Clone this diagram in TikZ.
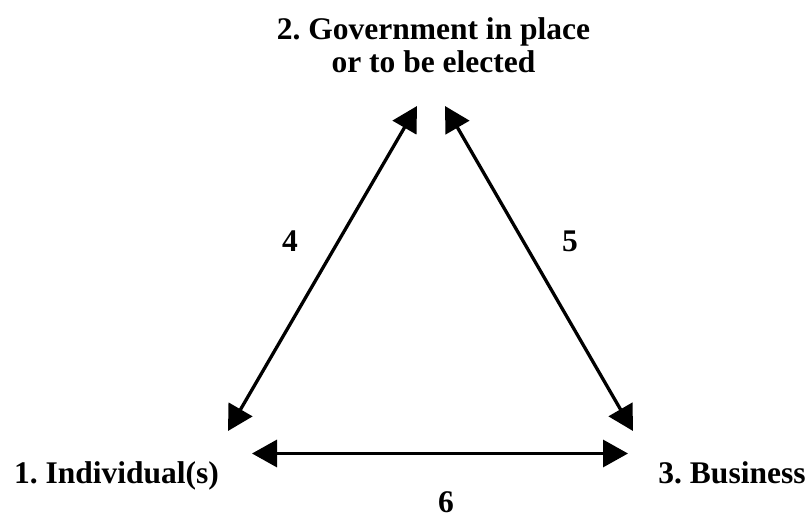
\documentclass[tikz,border=0pt]{standalone}
\usepackage{fontspec}
\setmainfont{Liberation Serif}
\usetikzlibrary{arrows.meta}
\frenchspacing
\tikzset{
  lbl/.style={font=\fontsize{31.5}{33}\selectfont\bfseries, inner sep=0pt, anchor=base},
  conn/.style={line width=3.3pt, {Triangle[length=25pt,width=27pt]}-{Triangle[length=25pt,width=27pt]}}
}
\begin{document}
\begin{tikzpicture}[x=1pt,y=-1pt]
\useasboundingbox (0,0) rectangle (809,519);
\node[lbl] (n2) at (433.5,40) {2. Government in place};
\node[lbl] (n2b) at (433.5,73) {or to be elected};
\node[lbl] (n1) at (116.5,483) {1. Individual(s)};
\node[lbl] (n3) at (732,483) {3. Business};
\node[lbl] (l4) at (290,251) {4};
\node[lbl] (l5) at (570,251) {5};
\node[lbl] (l6) at (446,512) {6};
\coordinate (a1) at (228,431);
\coordinate (a2) at (417,106);
\coordinate (b1) at (445,106);
\coordinate (b2) at (633,431);
\coordinate (c1) at (252,453.5);
\coordinate (c2) at (628,453.5);
\draw[conn] (a1) -- (a2);
\draw[conn] (b1) -- (b2);
\draw[conn] (c1) -- (c2);
\end{tikzpicture}
\end{document}
